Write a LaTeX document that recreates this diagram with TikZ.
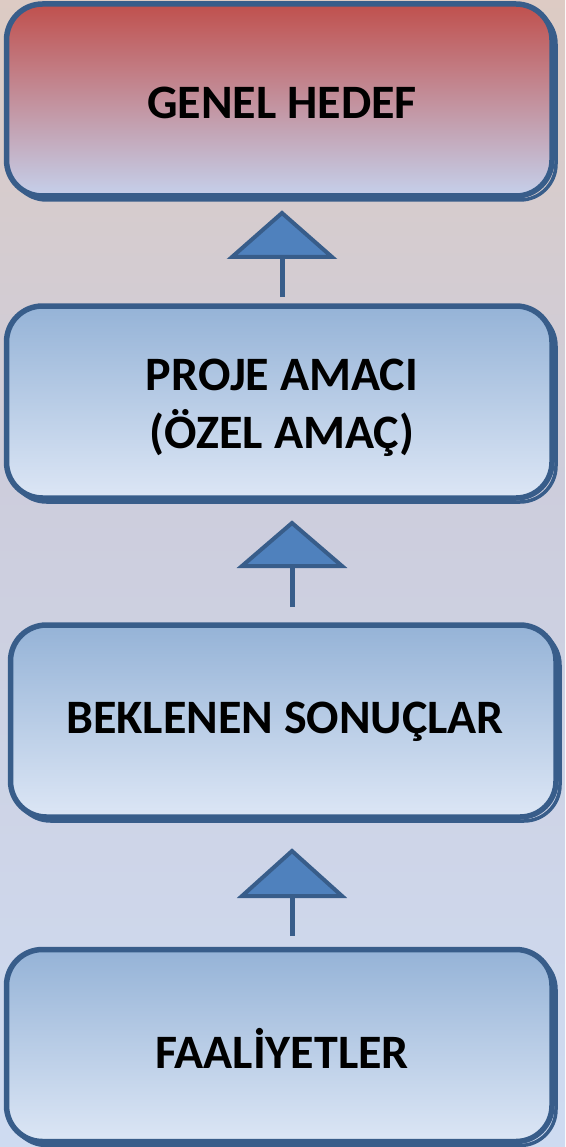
\documentclass[tikz,border=0pt]{standalone}
\usepackage{fontspec}
\setmainfont{Carlito}
\definecolor{bordc}{HTML}{385D8A}
\definecolor{arrfill}{HTML}{4F81BD}
\definecolor{bgtop}{RGB}{238,200,172}
\definecolor{bgq}{RGB}{223,203,192}
\definecolor{bgmid}{RGB}{205,205,220}
\definecolor{bgbot}{RGB}{206,219,241}
\definecolor{redtop}{HTML}{C0504D}
\definecolor{redbot}{HTML}{C5D0EB}
\definecolor{bluetop}{HTML}{95B3D7}
\definecolor{bluebot}{HTML}{DCE6F5}
\pgfdeclareverticalshading{bgshade}{100bp}{color(0bp)=(bgbot); color(26bp)=(bgbot); color(54bp)=(bgmid); color(78bp)=(bgq); color(100bp)=(bgtop)}
\begin{document}
\begin{tikzpicture}[x=1pt,y=-1pt,
  boxbase/.style={rounded corners=36pt, minimum width=545.5pt, minimum height=192pt, inner sep=0pt, outer sep=0pt},
  box/.style={boxbase, draw=bordc, line width=5.5pt, align=center},
  shadowbox/.style={boxbase, draw=bordc, line width=3.5pt},
  redbox/.style={box, top color=redtop, bottom color=redbot},
  bluebox/.style={box, top color=bluetop, bottom color=bluebot},
  lbl/.style={font=\fontsize{48}{58}\selectfont\bfseries, align=center, text=black, inner sep=0pt},
  arrowtri/.style={draw=bordc, fill=arrfill, line width=4pt, line join=miter},
  arrowstem/.style={draw=bordc, line width=5pt}]
\useasboundingbox (0,0) rectangle (565,1147);
\shade[shading=bgshade] (0,0) rectangle (565,1147);
% shadows
\node[shadowbox] (s1) at (283.25,104) {};
\node[shadowbox] (s2) at (283.25,406) {};
\node[shadowbox] (s3) at (287.25,725) {};
\node[shadowbox] (s4) at (283.25,1049.5) {};
% boxes
\node[redbox] (b1) at (279.25,100) {};
\node[bluebox] (b2) at (279.25,402) {};
\node[bluebox] (b3) at (283.25,721) {};
\node[bluebox] (b4) at (279.25,1045.5) {};
% labels
\node[lbl] (t1) at (282,103) {GENEL HEDEF};
\node[lbl] (t2) at (282,408) {PROJE AMACI\\(ÖZEL AMAÇ)};
\node[lbl] (t3) at (285,722) {BEKLENEN SONUÇLAR};
\node[lbl] (t4) at (282,1048) {FAALİYETLER};
% arrows
\coordinate (a1tip) at (282,213);
\coordinate (a1l) at (232,257);
\coordinate (a1r) at (332,257);
\coordinate (a1b) at (282,257);
\coordinate (a1s) at (282,297);
\draw[arrowstem] (a1s) -- (a1b);
\draw[arrowtri] (a1tip) -- (a1r) -- (a1l) -- cycle;
\coordinate (a2tip) at (292,523);
\coordinate (a2l) at (242,566);
\coordinate (a2r) at (342,566);
\coordinate (a2b) at (292,566);
\coordinate (a2s) at (292,607);
\draw[arrowstem] (a2s) -- (a2b);
\draw[arrowtri] (a2tip) -- (a2r) -- (a2l) -- cycle;
\coordinate (a3tip) at (292,851);
\coordinate (a3l) at (242,896);
\coordinate (a3r) at (342,896);
\coordinate (a3b) at (292,896);
\coordinate (a3s) at (292,936);
\draw[arrowstem] (a3s) -- (a3b);
\draw[arrowtri] (a3tip) -- (a3r) -- (a3l) -- cycle;
\end{tikzpicture}
\end{document}
